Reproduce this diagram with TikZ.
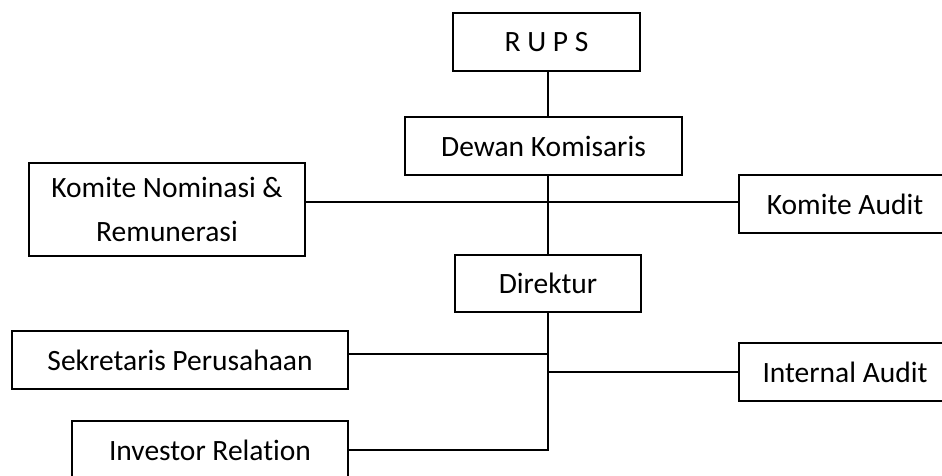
\documentclass[tikz,border=0pt]{standalone}
\usepackage{fontspec}
\setmainfont{Carlito}[Ligatures=NoCommon]
\begin{document}
\begin{tikzpicture}[x=1pt,y=-1pt,
  box/.style={draw,line width=1.3pt,rectangle,inner sep=0pt,align=center,
    font=\fontsize{29.5}{44}\selectfont},
  conn/.style={line width=1.3pt}]
\clip (0,0) rectangle (942,475);
\node[box,minimum width=187,minimum height=58] (rups) at (546.5,42) {R U P S};
\node[box,minimum width=277,minimum height=58] (dewan) at (543.5,146) {Dewan Komisaris};
\node[box,minimum width=276,minimum height=93] (knr) at (167,209.5) {Komite Nominasi \&\\Remunerasi};
\node[box,minimum width=212,minimum height=58] (ka) at (845,204) {Komite Audit};
\node[box,minimum width=186,minimum height=57] (dir) at (548,283.5) {Direktur};
\node[box,minimum width=336,minimum height=58] (sek) at (180,360) {Sekretaris Perusahaan};
\node[box,minimum width=212,minimum height=58] (ia) at (845,372) {Internal Audit};
\node[box,minimum width=276,minimum height=58] (ir) at (210,450) {Investor Relation};
\coordinate (j1) at (548,202);
\coordinate (j2) at (548,354);
\coordinate (j3) at (548,372);
\coordinate (j4) at (548,450);
\draw[conn] (rups.south -| dir.north) -- (dewan.north -| dir.north);
\draw[conn] (dewan.south -| dir.north) -- (dir.north);
\draw[conn] (knr.east |- j1) -- (ka.west |- j1);
\draw[conn] (dir.south) -- (j4) -- (ir.east);
\draw[conn] (sek.east |- j2) -- (j2);
\draw[conn] (j3) -- (ia.west);
\end{tikzpicture}
\end{document}
